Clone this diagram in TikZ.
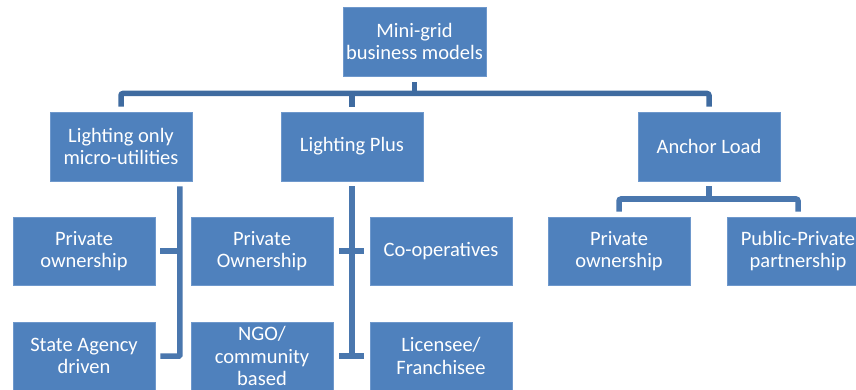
\documentclass[tikz,border=0pt]{standalone}
\usepackage{fontspec}
\setmainfont{Carlito}
\definecolor{boxblue}{HTML}{4F81BD}
\definecolor{boxedge}{HTML}{6E98CC}
\definecolor{connA}{HTML}{3F6BA0}
\definecolor{connB}{HTML}{4A77AE}
\begin{document}
\begin{tikzpicture}[x=1pt,y=-1pt,
  bx/.style={fill=boxblue,draw=boxedge,line width=0.8pt,minimum width=142pt,minimum height=68pt,
    inner sep=1pt,align=center,text=white,font=\fontsize{20.5}{22.5}\selectfont},
  connA/.style={draw=connA,line width=5.5pt},
  connB/.style={draw=connB,line width=5.5pt}]
\useasboundingbox (0,0) rectangle (856,390);
% boxes
\node[bx,minimum width=143pt,minimum height=69pt] (top) at (414.5,41.5) {Mini-grid\\business models};
\node[bx,minimum height=69pt] (L1) at (121,146.5) {Lighting only\\micro-utilities};
\node[bx,minimum height=69pt] (LP) at (352,146.5) {Lighting Plus};
\node[bx,minimum height=69pt] (AL) at (709,146.5) {Anchor Load};
\node[bx] (PO1) at (84,251) {Private\\ownership};
\node[bx] (SA) at (84,356) {State Agency\\driven};
\node[bx] (PO2) at (262,251) {Private\\Ownership};
\node[bx] (NGO) at (262,356) {NGO/\\community\\based};
\node[bx] (CO) at (441,251) {Co-operatives};
\node[bx] (LIC) at (441,356) {Licensee/\\Franchisee};
\node[bx] (PO3) at (619,251) {Private\\ownership};
\node[bx] (PPP) at (798,251) {Public-Private\\partnership};
% level 1 connectors
\coordinate (b1) at (414.5,93.5);
\draw[connA] ([yshift=-6pt]top.south) -- (top.south |- b1);
\draw[connA,rounded corners=2pt] ([yshift=5pt]L1.north) |- (b1) -| ([yshift=5pt]AL.north);
\draw[connA] ([yshift=5pt]LP.north) -- (LP.north |- b1);
% lighting only
\coordinate (v1) at ([xshift=-12.5pt,yshift=-5pt]L1.south east);
\draw[connB,rounded corners=1pt] (v1) |- ([xshift=5pt]SA.east);
\draw[connB] ([xshift=5pt]PO1.east) -- (PO1.east -| v1);
% lighting plus
\coordinate (v2) at ([yshift=-5pt]LP.south);
\draw[connB] (v2) -- (v2 |- NGO.east);
\draw[connB] ([xshift=6pt]PO2.east) -- ([xshift=-6pt]CO.west);
\draw[connB] ([xshift=6pt]NGO.east) -- ([xshift=-6pt]LIC.west);
% anchor load
\coordinate (b2) at (709,199);
\draw[connB] ([yshift=-5pt]AL.south) -- (b2);
\draw[connB,rounded corners=2pt] ([yshift=5pt]PO3.north) |- (b2) -| ([yshift=5pt]PPP.north);
\end{tikzpicture}
\end{document}
